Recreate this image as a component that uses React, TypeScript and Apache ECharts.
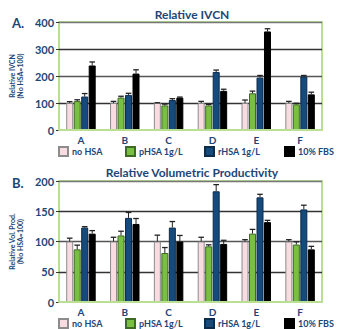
import React, { useEffect, useRef } from "react";
import * as echarts from "echarts";

const categories = ["A", "B", "C", "D", "E", "F"];
const seriesNames = ["no HSA", "pHSA 1g/L", "rHSA 1g/L", "10% FBS"];

// Chart A: Relative IVCN
const ivcnNoHSA = [100, 100, 100, 100, 100, 100];
const ivcnNoHSAErr = [5, 6, 1, 6, 11, 6];
const ivcnPHSA = [107, 120, 91, 91, 136, 95];
const ivcnPHSAErr = [5, 5, 5, 4, 8, 4];
const ivcnRHSA = [124, 130, 111, 215, 194, 198];
const ivcnRHSAErr = [11, 6, 5, 7, 8, 4];
const ivcnFBS = [239, 209, 120, 145, 365, 132];
const ivcnFBSErr = [13, 14, 2, 6, 10, 8];

// Chart B: Relative Volumetric Productivity
const volNoHSA = [100, 100, 100, 100, 100, 100];
const volNoHSAErr = [5.5, 7, 10.5, 7, 3, 3];
const volPHSA = [87, 110, 81, 92, 113, 95];
const volPHSAErr = [7, 7, 9, 2.5, 7, 4.5];
const volRHSA = [123, 139, 123, 183, 173, 153];
const volRHSAErr = [1.5, 9, 10, 11, 5, 7];
const volFBS = [113, 129, 100, 96, 132, 87];
const volFBSErr = [5, 9, 10, 6, 3, 5];

const ivcnTicks = { min: 0, max: 400, interval: 100 };
const volTicks = { min: 0, max: 200, interval: 50 };

const colors = ["#f9dce2", "#78bf42", "#154a7d", "#000000"];
const borders = ["#8c8c8c", "#3f6a24", "#0c2c4c", "#000000"];
const navy = "#1d4677";
const greenLine = "#b9df92";
const FONT = "Lato";

const BAR_W = 7;
const BAR_STEP = 7.5;
const offsets = [-1.5, -0.5, 0.5, 1.5].map((k) => k * BAR_STEP);

export default function App() {
  const ref = useRef<HTMLDivElement>(null);
  useEffect(() => {
    if (!ref.current) return;
    const chart = echarts.init(ref.current, undefined, { renderer: "svg" });

    const valsA = [ivcnNoHSA, ivcnPHSA, ivcnRHSA, ivcnFBS];
    const errsA = [ivcnNoHSAErr, ivcnPHSAErr, ivcnRHSAErr, ivcnFBSErr];
    const valsB = [volNoHSA, volPHSA, volRHSA, volFBS];
    const errsB = [volNoHSAErr, volPHSAErr, volRHSAErr, volFBSErr];

    const barSeries = (vals: number[][], idx: number) =>
      vals.map((v, i) => ({
        type: "bar",
        name: seriesNames[i],
        xAxisIndex: idx,
        yAxisIndex: idx,
        data: v,
        barWidth: BAR_W,
        barGap: "7%",
        itemStyle: { color: colors[i], borderColor: borders[i], borderWidth: 1 },
        z: 2,
      }));

    const errSeries = (vals: number[][], errs: number[][], idx: number) => {
      const data: number[][] = [];
      vals.forEach((v, s) =>
        v.forEach((val, c) => data.push([c, val, errs[s][c], s]))
      );
      return {
        type: "custom",
        xAxisIndex: idx,
        yAxisIndex: idx,
        z: 5,
        silent: true,
        data,
        renderItem: (_p: any, api: any) => {
          const c = api.value(0);
          const v = api.value(1);
          const e = api.value(2);
          const s = api.value(3);
          const base = api.coord([c, v]);
          const top = api.coord([c, v + e]);
          const cx = base[0] + offsets[s];
          return {
            type: "group",
            children: [
              {
                type: "line",
                shape: { x1: cx, y1: base[1], x2: cx, y2: top[1] },
                style: { stroke: "#222", lineWidth: 1 },
              },
              {
                type: "line",
                shape: { x1: cx - 2.8, y1: top[1], x2: cx + 2.8, y2: top[1] },
                style: { stroke: "#222", lineWidth: 1.3 },
              },
            ],
          };
        },
      };
    };

    const legendX = [53, 120, 199, 279];
    const legends: any[] = [];
    [141, 313].forEach((top) => {
      seriesNames.forEach((n, i) => {
        legends.push({
          data: [n],
          left: legendX[i],
          top,
          itemWidth: 9,
          itemHeight: 9,
          itemGap: 4,
          icon: "rect",
          selectedMode: false,
          textStyle: { color: navy, fontSize: 9, fontWeight: "bold", fontFamily: FONT, padding: [0, 0, 0, -1] },
        });
      });
    });

    const yAxis = (t: any, gridIndex: number, name: string) => ({
      type: "value",
      gridIndex,
      min: t.min,
      max: t.max,
      interval: t.interval,
      name,
      nameLocation: "middle",
      nameRotate: 90,
      nameGap: 21,
      nameTextStyle: { color: navy, fontSize: 7, fontWeight: "bold", fontFamily: FONT, lineHeight: 8 },
      axisLine: { show: false },
      axisTick: { show: true, length: 3, lineStyle: { color: "#333" } },
      axisLabel: { color: navy, fontSize: 11, fontWeight: "bold", fontFamily: FONT, margin: 5 },
      splitLine: {
        show: true,
        lineStyle: { color: ["rgba(0,0,0,0)", "#333", "#555", "#333", "#777"], width: 1.4 },
      },
    });

    const xAxis = (gridIndex: number) => ({
      type: "category",
      gridIndex,
      data: categories,
      axisLine: { show: true, lineStyle: { color: greenLine, width: 2 } },
      axisTick: { show: false },
      axisLabel: { color: navy, fontSize: 10, fontWeight: "bold", fontFamily: FONT, margin: 5 },
      z: 3,
    });

    chart.setOption({
      animation: false,
      title: [
        {
          text: "Relative IVCN",
          left: 187,
          top: 3,
          textAlign: "center",
          textStyle: { color: navy, fontSize: 12, fontWeight: "bold", fontFamily: FONT },
        },
        {
          text: "Relative Volumetric Productivity",
          left: 187,
          top: 161,
          textAlign: "center",
          textStyle: { color: navy, fontSize: 12, fontWeight: "bold", fontFamily: FONT },
        },
      ],
      graphic: [
        { type: "text", left: 12, top: 16, style: { text: "A.", fill: navy, fontSize: 13, fontWeight: "bold", fontFamily: FONT } },
        { type: "text", left: 12, top: 176, style: { text: "B.", fill: navy, fontSize: 13, fontWeight: "bold", fontFamily: FONT } },
      ],
      legend: legends,
      grid: [
        { left: 53, right: 15, top: 22, height: 108, show: true, borderColor: greenLine, borderWidth: 2 },
        { left: 53, right: 15, top: 181, height: 121, show: true, borderColor: greenLine, borderWidth: 2 },
      ],
      xAxis: [xAxis(0), xAxis(1)],
      yAxis: [
        yAxis(ivcnTicks, 0, "Relative IVCN\n(No HSA=100)"),
        yAxis(volTicks, 1, "Relative Vol. Prod.\n(No HSA=100)"),
      ],
      series: [
        ...barSeries(valsA, 0),
        errSeries(valsA, errsA, 0),
        ...barSeries(valsB, 1),
        errSeries(valsB, errsB, 1),
      ],
    });
    return () => chart.dispose();
  }, []);
  return (
    <div
      ref={ref}
      style={{ position: "fixed", left: 0, top: 0, width: 337, height: 329, background: "#fff" }}
    />
  );
}
